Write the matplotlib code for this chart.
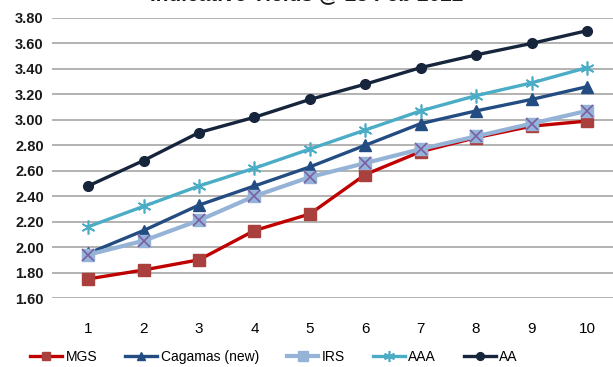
import matplotlib
matplotlib.use("Agg")
import matplotlib.pyplot as plt

plt.rcParams['font.family'] = ['Liberation Sans Narrow', 'Liberation Sans', 'DejaVu Sans']

tenor = [1, 2, 3, 4, 5, 6, 7, 8, 9, 10]
mgs = [1.75, 1.82, 1.90, 2.13, 2.26, 2.57, 2.75, 2.86, 2.95, 2.99]
cagamas = [1.95, 2.13, 2.33, 2.48, 2.63, 2.80, 2.97, 3.07, 3.16, 3.26]
irs = [1.94, 2.05, 2.21, 2.40, 2.55, 2.66, 2.77, 2.87, 2.97, 3.07]
aaa = [2.16, 2.32, 2.48, 2.62, 2.77, 2.92, 3.07, 3.19, 3.29, 3.41]
aa = [2.48, 2.68, 2.90, 3.02, 3.16, 3.28, 3.41, 3.51, 3.60, 3.70]
yticks = [1.6, 1.8, 2.0, 2.2, 2.4, 2.6, 2.8, 3.0, 3.2, 3.4, 3.6, 3.8]

fig = plt.figure(figsize=(6.13, 3.67), dpi=100)
ax = fig.add_axes([0.085, 0.188, 0.915, 0.763])

ax.plot(tenor, mgs, color='#C00000', lw=2.4, marker='s', ms=8,
        mfc='#A9403E', mec='#A9403E', label='MGS')
ax.plot(tenor, cagamas, color='#234C82', lw=2.4, marker='^', ms=8,
        mfc='#234C82', mec='#234C82', label='Cagamas (new)')
ax.plot(tenor, irs, color='#95B3D7', lw=3, marker='s', ms=9,
        mfc='#95B3D7', mec='#95B3D7', label='IRS')
ax.plot(tenor, irs, color='none', lw=0, marker='x', ms=8, mew=1.2,
        mec='#7B5FA6')
ax.plot(tenor, aaa, color='#4BACC6', lw=2.4, marker=(6, 2, 0), ms=10,
        mew=1.2, mec='#4BACC6', label='AAA')
ax.plot(tenor, aa, color='#16253B', lw=2.4, marker='o', ms=7,
        mfc='#16253B', mec='#16253B', label='AA')

ax.set_xlim(0.35, 10.47)
ax.set_ylim(1.6, 3.8)
ax.set_yticks(yticks)
ax.set_yticklabels([f'{v:.2f}' for v in yticks], fontsize=10.5, fontweight='bold')
ax.set_xticks(tenor)
ax.set_xticklabels([str(t) for t in tenor], fontsize=11)
ax.grid(axis='y', color='#A6A6A6', lw=1.2)
ax.set_axisbelow(True)
for s in ax.spines.values():
    s.set_visible(False)
ax.tick_params(length=0)
ax.tick_params(axis='x', pad=17)
ax.tick_params(axis='y', pad=6)
ax.yaxis.set_tick_params(labelcolor='#1a1a1a')

# title is cropped at the top edge in the original
fig.text(0.5, 0.9995, 'Indicative Yields @ 25 Feb 2022', ha='center', va='baseline',
         fontsize=15, fontweight='bold', color='#1a1a1a')

leg = fig.legend(loc='center', bbox_to_anchor=(0.447, 0.028), ncol=5, frameon=False,
                 fontsize=10, handlelength=2.3, handletextpad=0.25, columnspacing=2.0,
                 borderpad=0, markerscale=0.8)

fig.savefig('out.png', dpi=100)
